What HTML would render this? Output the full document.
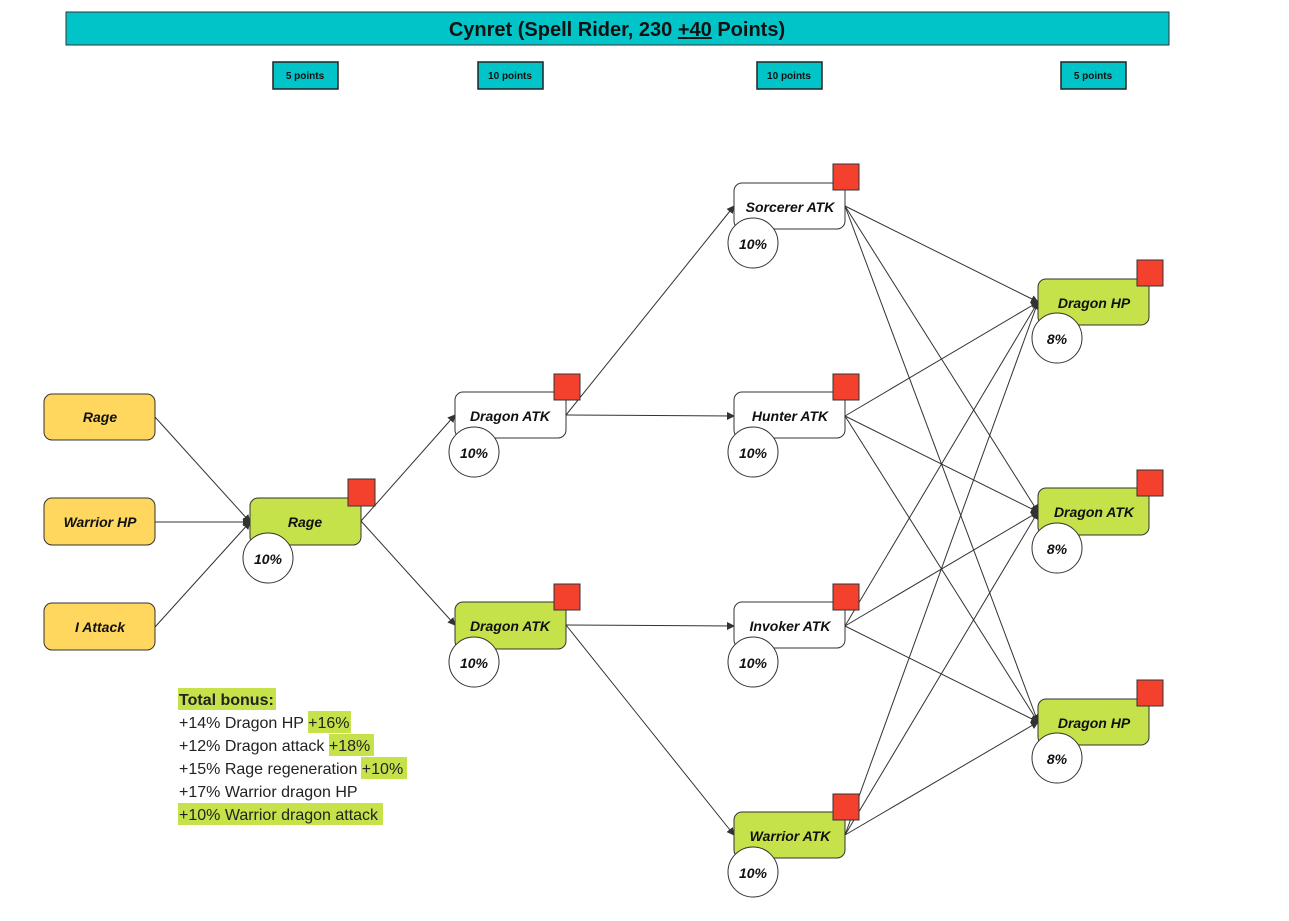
<!DOCTYPE html>
<html><head><meta charset="utf-8"><style>
body{margin:0;background:#fff;width:1289px;height:916px;overflow:hidden}
svg text{font-family:"Liberation Sans",sans-serif}
</style></head><body>
<svg width="1289" height="916" viewBox="0 0 1289 916" xmlns="http://www.w3.org/2000/svg">
<defs><marker id="a" markerWidth="8" markerHeight="8" refX="7" refY="4" orient="auto" markerUnits="userSpaceOnUse"><path d="M0,0 L8,4 L0,8 z" fill="#333"/></marker></defs>
<rect x="66" y="12" width="1103" height="33" fill="#00c4c8" stroke="#333" stroke-width="1"/>
<text x="617" y="36" font-size="20" font-weight="bold" text-anchor="middle" fill="#111">Cynret (Spell Rider, 230 <tspan text-decoration="underline">+40</tspan> Points)</text>
<g font-size="10" font-weight="bold" text-anchor="middle" fill="#111">
<rect x="273" y="62" width="65" height="27" fill="#00c4c8" stroke="#222" stroke-width="1.5"/><text x="305" y="79">5 points</text>
<rect x="478" y="62" width="65" height="27" fill="#00c4c8" stroke="#222" stroke-width="1.5"/><text x="510" y="79">10 points</text>
<rect x="757" y="62" width="65" height="27" fill="#00c4c8" stroke="#222" stroke-width="1.5"/><text x="789" y="79">10 points</text>
<rect x="1061" y="62" width="65" height="27" fill="#00c4c8" stroke="#222" stroke-width="1.5"/><text x="1093" y="79">5 points</text>
</g>
<g stroke="#333" stroke-width="1" marker-end="url(#a)">
<line x1="155" y1="417" x2="250" y2="522"/><line x1="155" y1="522" x2="250" y2="522"/><line x1="155" y1="627" x2="250" y2="522"/>
<line x1="361" y1="521" x2="455" y2="415"/><line x1="361" y1="521" x2="455" y2="625"/>
<line x1="566" y1="415" x2="734" y2="206"/><line x1="566" y1="415" x2="734" y2="416"/>
<line x1="566" y1="625" x2="734" y2="626"/><line x1="566" y1="625" x2="734" y2="835"/>
<line x1="845" y1="206" x2="1038" y2="302"/><line x1="845" y1="206" x2="1038" y2="512"/><line x1="845" y1="206" x2="1038" y2="722"/>
<line x1="845" y1="416" x2="1038" y2="302"/><line x1="845" y1="416" x2="1038" y2="512"/><line x1="845" y1="416" x2="1038" y2="722"/>
<line x1="845" y1="626" x2="1038" y2="302"/><line x1="845" y1="626" x2="1038" y2="512"/><line x1="845" y1="626" x2="1038" y2="722"/>
<line x1="845" y1="835" x2="1038" y2="302"/><line x1="845" y1="835" x2="1038" y2="512"/><line x1="845" y1="835" x2="1038" y2="722"/>
</g>
<g font-size="14" font-weight="bold" font-style="italic" text-anchor="middle" fill="#111" stroke="#333">
<rect x="44" y="394" width="111" height="46" rx="8" fill="#ffd75e"/><text x="100" y="422" stroke="none">Rage</text>
<rect x="44" y="498" width="111" height="47" rx="8" fill="#ffd75e"/><text x="100" y="527" stroke="none">Warrior HP</text>
<rect x="44" y="603" width="111" height="47" rx="8" fill="#ffd75e"/><text x="100" y="632" stroke="none">I Attack</text>
</g>
<g font-size="14" font-weight="bold" font-style="italic" text-anchor="middle" fill="#111" stroke="#333">
<rect x="250" y="498" width="111" height="47" rx="8" fill="#c5e24b"/><text x="305" y="527" stroke="none">Rage</text>
<rect x="348" y="479" width="27" height="27" fill="#f4412e"/><circle cx="268" cy="558" r="25" fill="#fff"/><text x="268" y="564" stroke="none">10%</text>

<rect x="455" y="392" width="111" height="46" rx="8" fill="#fff"/><text x="510" y="421" stroke="none">Dragon ATK</text>
<rect x="554" y="374" width="26" height="26" fill="#f4412e"/><circle cx="474" cy="452" r="25" fill="#fff"/><text x="474" y="458" stroke="none">10%</text>
<rect x="455" y="602" width="111" height="47" rx="8" fill="#c5e24b"/><text x="510" y="631" stroke="none">Dragon ATK</text>
<rect x="554" y="584" width="26" height="26" fill="#f4412e"/><circle cx="474" cy="662" r="25" fill="#fff"/><text x="474" y="668" stroke="none">10%</text>

<rect x="734" y="183" width="111" height="46" rx="8" fill="#fff"/><text x="790" y="212" stroke="none">Sorcerer ATK</text>
<rect x="833" y="164" width="26" height="26" fill="#f4412e"/><circle cx="753" cy="243" r="25" fill="#fff"/><text x="753" y="249" stroke="none">10%</text>
<rect x="734" y="392" width="111" height="46" rx="8" fill="#fff"/><text x="790" y="421" stroke="none">Hunter ATK</text>
<rect x="833" y="374" width="26" height="26" fill="#f4412e"/><circle cx="753" cy="452" r="25" fill="#fff"/><text x="753" y="458" stroke="none">10%</text>
<rect x="734" y="602" width="111" height="46" rx="8" fill="#fff"/><text x="790" y="631" stroke="none">Invoker ATK</text>
<rect x="833" y="584" width="26" height="26" fill="#f4412e"/><circle cx="753" cy="662" r="25" fill="#fff"/><text x="753" y="668" stroke="none">10%</text>
<rect x="734" y="812" width="111" height="46" rx="8" fill="#c5e24b"/><text x="790" y="841" stroke="none">Warrior ATK</text>
<rect x="833" y="794" width="26" height="26" fill="#f4412e"/><circle cx="753" cy="872" r="25" fill="#fff"/><text x="753" y="878" stroke="none">10%</text>

<rect x="1038" y="279" width="111" height="46" rx="8" fill="#c5e24b"/><text x="1094" y="308" stroke="none">Dragon HP</text>
<rect x="1137" y="260" width="26" height="26" fill="#f4412e"/><circle cx="1057" cy="338" r="25" fill="#fff"/><text x="1057" y="344" stroke="none">8%</text>
<rect x="1038" y="488" width="111" height="47" rx="8" fill="#c5e24b"/><text x="1094" y="517" stroke="none">Dragon ATK</text>
<rect x="1137" y="470" width="26" height="26" fill="#f4412e"/><circle cx="1057" cy="548" r="25" fill="#fff"/><text x="1057" y="554" stroke="none">8%</text>
<rect x="1038" y="699" width="111" height="46" rx="8" fill="#c5e24b"/><text x="1094" y="728" stroke="none">Dragon HP</text>
<rect x="1137" y="680" width="26" height="26" fill="#f4412e"/><circle cx="1057" cy="758" r="25" fill="#fff"/><text x="1057" y="764" stroke="none">8%</text>
</g>
<g fill="#c5e24b">
<rect x="178" y="688" width="98" height="22"/><rect x="308" y="711" width="43" height="22"/><rect x="329" y="734" width="45" height="22"/>
<rect x="361" y="757" width="46" height="22"/><rect x="178" y="803" width="205" height="22"/>
</g>
<g font-size="16" fill="#222">
<text x="179" y="705" font-weight="bold">Total bonus:</text>
<text x="179" y="728">+14% Dragon HP +16%</text>
<text x="179" y="751">+12% Dragon attack +18%</text>
<text x="179" y="774">+15% Rage regeneration +10%</text>
<text x="179" y="797">+17% Warrior dragon HP</text>
<text x="179" y="820">+10% Warrior dragon attack</text>
</g>
</svg>
</body></html>
